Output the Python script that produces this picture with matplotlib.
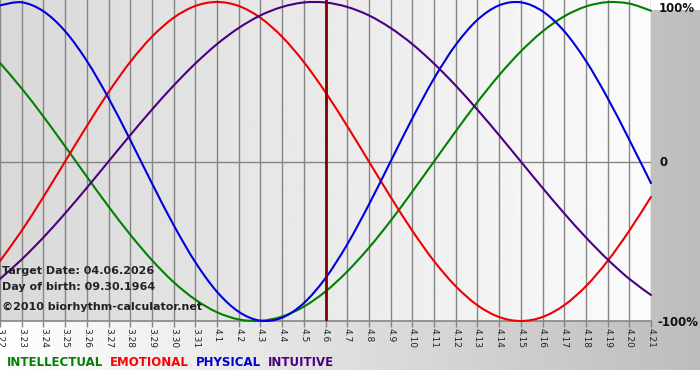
import matplotlib
matplotlib.use("Agg")
import matplotlib.pyplot as plt
import numpy as np
from matplotlib.path import Path
from matplotlib.patches import PathPatch

# ---- data ----
dates = ["3.22", "3.23", "3.24", "3.25", "3.26", "3.27", "3.28", "3.29", "3.30", "3.31",
         "4.1", "4.2", "4.3", "4.4", "4.5", "4.6", "4.7", "4.8", "4.9", "4.10",
         "4.11", "4.12", "4.13", "4.14", "4.15", "4.16", "4.17", "4.18", "4.19", "4.20", "4.21"]

physical = [0.979, 0.998, 0.942, 0.817, 0.631, 0.398, 0.136, -0.136, -0.398, -0.631,
            -0.817, -0.942, -0.998, -0.979, -0.888, -0.731, -0.520, -0.270, 0.0, 0.270,
            0.520, 0.731, 0.888, 0.979, 0.998, 0.942, 0.817, 0.631, 0.398, 0.136, -0.136]

emotional = [-0.624, -0.434, -0.222, 0.0, 0.222, 0.434, 0.624, 0.782, 0.901, 0.975,
             1.0, 0.975, 0.901, 0.782, 0.624, 0.434, 0.222, 0.0, -0.222, -0.434,
             -0.624, -0.782, -0.901, -0.975, -1.0, -0.975, -0.901, -0.782, -0.624, -0.434, -0.222]

intellectual = [0.618, 0.458, 0.282, 0.095, -0.095, -0.282, -0.458, -0.618, -0.756, -0.866,
                -0.945, -0.990, -0.999, -0.972, -0.910, -0.815, -0.690, -0.541, -0.372, -0.189,
                0.0, 0.189, 0.372, 0.541, 0.690, 0.815, 0.910, 0.972, 0.999, 0.990, 0.945]

intuitive = [-0.736, -0.614, -0.476, -0.325, -0.165, 0.0, 0.165, 0.325, 0.476, 0.614,
             0.736, 0.837, 0.916, 0.969, 0.997, 0.997, 0.969, 0.916, 0.837, 0.736,
             0.614, 0.476, 0.325, 0.165, 0.0, -0.165, -0.325, -0.476, -0.614, -0.736, -0.837]

target_index = 15
y_labels = ["100%", "0", "-100%"]
info_lines = ["Target Date: 04.06.2026", "Day of birth: 09.30.1964", "\u00a92010 biorhythm-calculator.net"]
legend_names = ["INTELLECTUAL", "EMOTIONAL", "PHYSICAL", "INTUITIVE"]

# ---- styles ----
c_int, c_emo, c_phy, c_itu = "#008000", "#ee0000", "#0000dd", "#4b0082"
leg_colors = ["#008000", "#ff0000", "#0000cc", "#4b0082"]

W, H = 700, 380
fig = plt.figure(figsize=(W / 100, H / 100), dpi=100)
fig.patch.set_facecolor("white")

# outer gradient background (white -> gray, left to right)
bg = fig.add_axes([0, 10 / H, 1, 360 / H], zorder=-10)
bg.axis("off")
grad = np.linspace(1.0, 0.74, 256)
bg.imshow(np.tile(grad, (2, 1)), cmap="gray", vmin=0, vmax=1, aspect="auto",
          extent=[0, 1, 0, 1], interpolation="bilinear")
bg.set_xlim(0, 1); bg.set_ylim(0, 1)

# main plot axes
left_px, right_px, top_px, bot_px = 0, 651, 0, 321
ax = fig.add_axes([left_px / W, (H - bot_px) / H, (right_px - left_px) / W, (bot_px - top_px) / H])
n = len(dates)
x = np.arange(n)
ytop = 1.0 + 2 / 159.5
ax.set_xlim(0, n - 1)
ax.set_ylim(-1, ytop)
pgrad = np.linspace(0.85, 0.985, 256)
ax.imshow(np.tile(pgrad, (2, 1)), cmap="gray", vmin=0, vmax=1, aspect="auto",
          extent=[0, n - 1, -1, ytop], interpolation="bilinear", zorder=0)

for xi in x:
    ax.axvline(xi, color="#858585", lw=1.0, zorder=1)
ax.axhline(0, color="#858585", lw=1.0, zorder=1)
ax.axhline(-1, color="#858585", lw=1.2, zorder=1, clip_on=False)


def smooth_line(axis, xs, ys, color, lw):
    """Draw a smooth curve through the data points (Catmull-Rom as Bezier)."""
    p = np.column_stack([xs, ys]).astype(float)
    pe = np.vstack([p[0], p, p[-1]])
    verts = [tuple(p[0])]
    codes = [Path.MOVETO]
    for i in range(1, len(pe) - 2):
        p0, p1, p2, p3 = pe[i - 1], pe[i], pe[i + 1], pe[i + 2]
        c1 = p1 + (p2 - p0) / 6.0
        c2 = p2 - (p3 - p1) / 6.0
        verts += [tuple(c1), tuple(c2), tuple(p2)]
        codes += [Path.CURVE4] * 3
    patch = PathPatch(Path(verts, codes), facecolor="none", edgecolor=color,
                      lw=lw, zorder=3, clip_on=False, capstyle="round", joinstyle="round")
    axis.add_patch(patch)


lw = 1.5
smooth_line(ax, x, intellectual, c_int, lw)
smooth_line(ax, x, emotional, c_emo, lw)
smooth_line(ax, x, physical, c_phy, lw)
smooth_line(ax, x, intuitive, c_itu, lw)

ax.axvline(target_index, color="#800000", lw=2.0, zorder=4)

for s in ax.spines.values():
    s.set_visible(False)
ax.set_yticks([])
ax.set_xticks(x)
ax.set_xticklabels(dates, rotation=270, fontsize=6.5, color="#222222")
ax.tick_params(axis="x", direction="out", length=4, width=1, color="#858585", pad=1)
for lab in ax.get_xticklabels():
    lab.set_ha("center")
    lab.set_va("top")

# right-side percentage labels
label_pos = [(659, 9), (659, 162), (657, 322)]
for lab, (px, py) in zip(y_labels, label_pos):
    fig.text(px / W, 1 - py / H, lab, ha="left", va="center", fontsize=8.5,
             fontweight="bold", color="#111111")

# info texts
info_y = [271, 287, 307]
for t, yp in zip(info_lines, info_y):
    fig.text(2 / W, 1 - yp / H, t, ha="left", va="center", fontsize=8,
             fontweight="bold", color="#222222")

# legend texts
xpos = 7
r = fig.canvas.get_renderer()
for name, col in zip(legend_names, leg_colors):
    t = fig.text(xpos / W, 1 - 362 / H, name, ha="left", va="center", fontsize=8.5,
                 fontweight="bold", color=col)
    bb = t.get_window_extent(renderer=r)
    xpos = xpos + bb.width + 7

fig.savefig("out.png", dpi=100)
